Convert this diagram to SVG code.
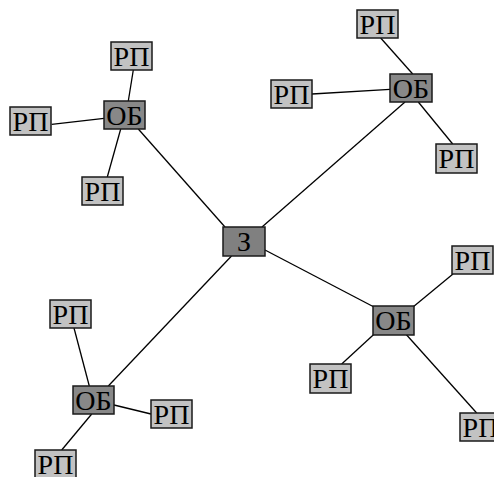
<svg xmlns="http://www.w3.org/2000/svg" width="494" height="477" viewBox="0 0 494 477">
<style>
.rp{fill:#c2c2c2;stroke:#1a1a1a;stroke-width:1.5}
.ob{fill:#888888;stroke:#1a1a1a;stroke-width:1.5}
.z{fill:#808080;stroke:#1a1a1a;stroke-width:1.5}
text{font-family:"Liberation Serif","Times New Roman",serif;font-size:28px;fill:#000;text-anchor:middle}
#edges line{stroke:#000;stroke-width:1.3}
</style>
<rect width="494" height="477" fill="#fff"/>
<g id="edges">
<line x1="133.3" y1="70" x2="128.3" y2="101"/>
<line x1="51.7" y1="124.3" x2="104" y2="118.3"/>
<line x1="120.7" y1="129" x2="107.3" y2="177"/>
<line x1="138.3" y1="129" x2="225" y2="227"/>
<line x1="380.7" y1="38" x2="412.7" y2="74"/>
<line x1="312" y1="94" x2="390" y2="89.3"/>
<line x1="418.3" y1="102" x2="452.7" y2="144"/>
<line x1="405" y1="102" x2="262" y2="227"/>
<line x1="265" y1="250" x2="374" y2="307"/>
<line x1="413.3" y1="306.7" x2="453" y2="274"/>
<line x1="374" y1="334.3" x2="341.7" y2="364"/>
<line x1="406" y1="334.3" x2="476.7" y2="413"/>
<line x1="74" y1="328" x2="89.3" y2="386"/>
<line x1="231.5" y1="256" x2="108.3" y2="386"/>
<line x1="114" y1="405" x2="151" y2="414"/>
<line x1="91.7" y1="414" x2="61.7" y2="450"/>
</g>
<g id="z"><rect class="z" x="223" y="227" width="42" height="29"/><text x="244" y="250.5">З</text></g>
<g id="ob1"><rect class="ob" x="104" y="101" width="41" height="28"/><text x="124.5" y="124.5">ОБ</text></g>
<g id="rp1a"><rect class="rp" x="111" y="42" width="41" height="28"/><text x="131.5" y="65.5">РП</text></g>
<g id="rp1b"><rect class="rp" x="10" y="107" width="41" height="28"/><text x="30.5" y="130.5">РП</text></g>
<g id="rp1c"><rect class="rp" x="82" y="177" width="41" height="28"/><text x="102.5" y="200.5">РП</text></g>
<g id="ob2"><rect class="ob" x="390" y="74" width="42" height="28"/><text x="411" y="97.5">ОБ</text></g>
<g id="rp2a"><rect class="rp" x="357" y="10" width="41" height="28"/><text x="377.5" y="33.5">РП</text></g>
<g id="rp2b"><rect class="rp" x="271" y="80" width="41" height="28"/><text x="291.5" y="103.5">РП</text></g>
<g id="rp2c"><rect class="rp" x="436" y="144" width="41" height="29"/><text x="456.5" y="167.5">РП</text></g>
<g id="ob3"><rect class="ob" x="373" y="306" width="41" height="29"/><text x="393.5" y="329.5">ОБ</text></g>
<g id="rp3a"><rect class="rp" x="452" y="246" width="41" height="28"/><text x="472.5" y="269.5">РП</text></g>
<g id="rp3b"><rect class="rp" x="310" y="364" width="41" height="29"/><text x="330.5" y="387.5">РП</text></g>
<g id="rp3c"><rect class="rp" x="460" y="413" width="41" height="28"/><text x="480.5" y="436.5">РП</text></g>
<g id="ob4"><rect class="ob" x="73" y="386" width="41" height="28"/><text x="93.5" y="409.5">ОБ</text></g>
<g id="rp4a"><rect class="rp" x="50" y="300" width="41" height="28"/><text x="70.5" y="323.5">РП</text></g>
<g id="rp4b"><rect class="rp" x="151" y="400" width="41" height="28"/><text x="171.5" y="423.5">РП</text></g>
<g id="rp4c"><rect class="rp" x="35" y="450" width="41" height="28"/><text x="55.5" y="473.5">РП</text></g>
</svg>
